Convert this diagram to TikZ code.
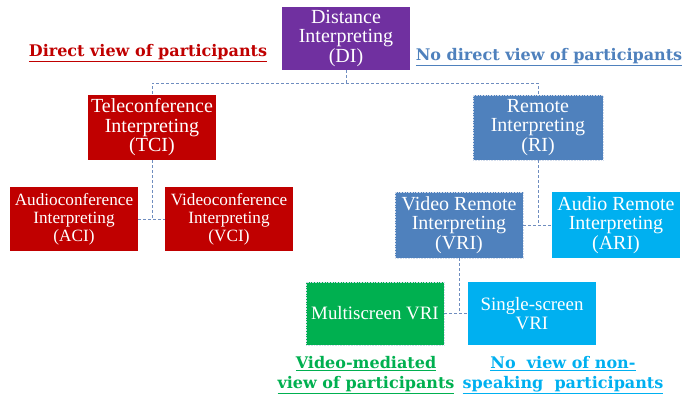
\documentclass[tikz,border=0pt]{standalone}
\usepackage{fontspec}
\setmainfont{Liberation Serif}
\newfontfamily\labfont{DejaVu Serif}
\definecolor{cPurple}{HTML}{7030A0}
\definecolor{cRed}{HTML}{C00000}
\definecolor{cBlue}{HTML}{4F81BD}
\definecolor{cCyan}{HTML}{00B0F0}
\definecolor{cGreen}{HTML}{00B050}
\definecolor{cLine}{HTML}{6F8DBF}
\begin{document}
\begin{tikzpicture}[x=1pt,y=-1pt,
  box/.style={rectangle, draw=none, text=white, align=center, inner sep=1pt,
    font=\fontsize{20}{19.5}\selectfont},
  smallbox/.style={box, font=\fontsize{17.2}{18}\selectfont},
  dotbox/.style={box, draw=white!70!cLine, densely dotted, line width=0.6pt},
  link/.style={draw=cLine, densely dashed, line width=0.7pt},
  lab/.style={font=\labfont\fontsize{16}{19.5}\selectfont\bfseries, align=center, inner sep=0pt}]
\useasboundingbox[fill=white] (0,0) rectangle (684,397);

\node[box, fill=cPurple, minimum width=128pt, minimum height=63pt] (DI) at (346,38.5) {Distance\\Interpreting\\(DI)};
\node[box, fill=cRed, minimum width=128pt, minimum height=65pt] (TCI) at (152,127.5) {Teleconference\\Interpreting\\(TCI)};
\node[dotbox, fill=cBlue, minimum width=130pt, minimum height=65pt] (RI) at (538,127.5) {Remote\\Interpreting\\(RI)};
\node[smallbox, fill=cRed, minimum width=128pt, minimum height=64pt] (ACI) at (74,219) {Audioconference\\Interpreting\\(ACI)};
\node[smallbox, fill=cRed, minimum width=128pt, minimum height=64pt] (VCI) at (229,219) {Videoconference\\Interpreting\\(VCI)};
\node[dotbox, fill=cBlue, minimum width=128pt, minimum height=66pt] (VRI) at (459,225) {Video Remote\\Interpreting\\(VRI)};
\node[box, fill=cCyan, minimum width=128pt, minimum height=66pt] (ARI) at (616,225) {Audio Remote\\Interpreting\\(ARI)};
\node[dotbox, fill=cGreen, minimum width=138pt, minimum height=63pt, font=\fontsize{18.9}{19.5}\selectfont] (MS) at (375,313.5) {Multiscreen VRI};
\node[box, fill=cCyan, minimum width=128pt, minimum height=63pt, font=\fontsize{18.9}{19.5}\selectfont] (SS) at (532,313.5) {Single-screen\\VRI};

\coordinate (DIj) at (346,83);
\coordinate (TCIj) at (152,219);
\coordinate (RIj) at (538,225);
\coordinate (VRIj) at (459,313.5);

\draw[link] (DI.south) -- (DIj) -| (TCI.north);
\draw[link] (DIj) -| (RI.north);
\draw[link] (TCI.south) -- (TCIj);
\draw[link] (ACI.east) -- (VCI.west);
\draw[link] (RI.south) -- (RIj);
\draw[link] (VRI.east) -- (ARI.west);
\draw[link] (VRI.south) -- (VRIj);
\draw[link] (MS.east) -- (SS.west);

\node[lab, text=cRed] (L1) at (148,53) {\underline{Direct view of participants}};
\node[lab, text=cBlue] (L2) at (549,57) {\underline{No direct view of participants}};
\node[lab, text=cGreen] (L3) at (366,375) {\underline{Video-mediated}\\\underline{view of participants}};
\node[lab, text=cCyan] (L4) at (563,375) {\underline{No\ \ view of non-}\\\underline{speaking\ \ participants}};
\end{tikzpicture}
\end{document}
